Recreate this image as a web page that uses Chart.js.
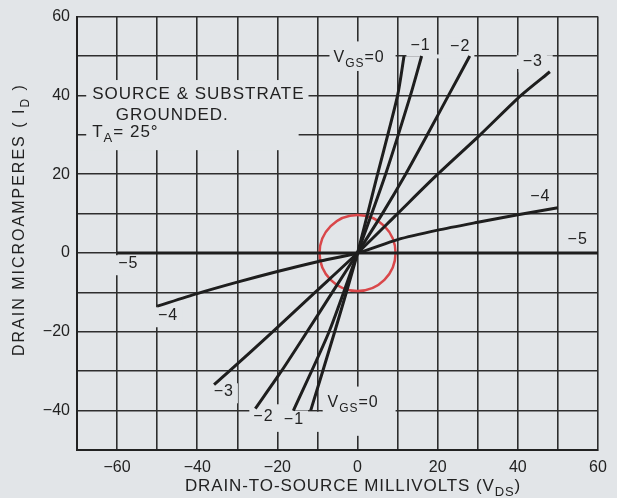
<!DOCTYPE html>
<html lang="en">
<head>
<meta charset="UTF-8">
<title>Drain current vs drain-to-source voltage</title>
<script src="https://cdn.jsdelivr.net/npm/chart.js"></script>
<style>
    html, body { margin: 0; padding: 0; background: #e2e5e8; }
    #wrap { width: 617px; height: 498px; }
</style>
</head>
<body>
<div id="wrap"><canvas id="chart" width="617" height="498"></canvas></div>
<script>
// curves: x = V_DS (mV), y = I_D (uA)
const vgs0X = [-11.7, -5.7, 0, 5, 10, 11.6];
const vgs0Y = [-40, -20, 0, 20, 40, 50];
const vgs1X = [-16, -7.1, 0, 7, 13.2, 16];
const vgs1Y = [-40, -20, 0, 20, 40, 50];
const vgs2X = [-25.5, -19, -12.6, -6.3, 0, 6.2, 12, 17.4, 22.7, 28];
const vgs2Y = [-39.5, -30, -20, -10, 0, 10, 20, 30, 40, 50];
const vgs3X = [-35.8, -32, -21.2, -10.6, 0, 10, 20, 30.6, 40.8, 48];
const vgs3Y = [-33.4, -30, -20, -10, 0, 10, 20, 30, 40, 46];
const vgs4X = [-50, -40, -30, -20, -10, 0, 10, 20, 30, 40, 50];
const vgs4Y = [-13.5, -10.3, -7.4, -4.7, -2.2, 0, 3.4, 5.8, 7.8, 9.7, 11.5];
const vgs5X = [-60, 60];
const vgs5Y = [0, 0];

// axis ranges and labelled ticks
const xMin = -70, xMax = 60;
const yMin = -50, yMax = 60;
const labelEvery = 20;

const PAPER = '#e2e5e8';
const INK = '#1e1e1e';
const FONT = '"Liberation Sans", Arial, sans-serif';

function pts(xs, ys) {
    return xs.map((x, i) => ({ x: x, y: ys[i] }));
}

function curve(xs, ys) {
    return {
        data: pts(xs, ys),
        showLine: true,
        borderColor: INK,
        borderWidth: 3,
        pointRadius: 0,
        tension: 0.25
    };
}

// text on the plot: parts are [text, isSubscript]
const notes = [
    { parts: [['V'], ['GS', 1], ['=0']], x: -6, y: 49.6 },
    { parts: [['\u22121']], x: 13.2, y: 52.7 },
    { parts: [['\u22122']], x: 23.1, y: 52.4 },
    { parts: [['\u22123']], x: 41.2, y: 48.7 },
    { parts: [['\u22124']], x: 43.1, y: 14.3 },
    { parts: [['\u22125']], x: 52.4, y: 3.3 },
    { parts: [['\u22125']], x: -59.7, y: -2.8 },
    { parts: [['\u22124']], x: -49.8, y: -16 },
    { parts: [['\u22123']], x: -35.9, y: -35.3 },
    { parts: [['\u22122']], x: -26, y: -41.5 },
    { parts: [['\u22121']], x: -18.4, y: -42.2 },
    { parts: [['V'], ['GS', 1], ['=0']], x: -7.5, y: -37.9 },
    { parts: [['SOURCE & SUBSTRATE']], x: -66.2, y: 40.2, size: 17 },
    { parts: [['GROUNDED.']], x: -60.3, y: 35, size: 17 },
    { parts: [['T'], ['A', 1], ['= 25\u00b0']], x: -66.2, y: 30.6, size: 17 }
];

// extra bits of grid left blank round the lettering [x0, y0, x1, y1]
const blanks = [
    [-67.7, 43.9, -14.7, 26.1],
    [-6.2, 53.7, 9.5, 46.2],
    [16, 50.4, 27.2, 49.4],
    [39.7, 50.2, 48.7, 46.7],
    [-25.9, -38.4, -16.2, -45.4],
    [-16.2, -40.3, -9.0, -45.4],
    [-8.7, -33.9, 9.5, -46.4]
];

function richWidth(ctx, parts, size) {
    let w = 0;
    parts.forEach(p => {
        ctx.font = (p[1] ? Math.round(size * 0.75) : size) + 'px ' + FONT;
        w += ctx.measureText(p[0]).width;
    });
    return w;
}

// draws text with subscripts, left edge at x, vertical middle at y
function drawRich(ctx, parts, x, y, size) {
    let cx = x;
    ctx.textBaseline = 'middle';
    ctx.textAlign = 'left';
    parts.forEach(p => {
        const s = p[1] ? Math.round(size * 0.75) : size;
        ctx.font = s + 'px ' + FONT;
        ctx.fillText(p[0], cx, p[1] ? y + size * 0.38 : y);
        cx += ctx.measureText(p[0]).width;
    });
}

const paperAndNotes = {
    id: 'paperAndNotes',
    beforeDraw(chart) {
        const ctx = chart.ctx;
        ctx.save();
        ctx.fillStyle = PAPER;
        ctx.fillRect(0, 0, chart.width, chart.height);
        ctx.restore();
    },
    // blank out the grid behind each note, like the lettering on the original
    beforeDatasetsDraw(chart) {
        const ctx = chart.ctx, xs = chart.scales.x, ys = chart.scales.y;
        ctx.save();
        ctx.letterSpacing = '1px';
        ctx.fillStyle = PAPER;
        notes.forEach(n => {
            const size = n.size || 16;
            const w = richWidth(ctx, n.parts, size);
            const px = xs.getPixelForValue(n.x), py = ys.getPixelForValue(n.y);
            ctx.fillRect(px - 4, py - size * 0.55, w + 8, size * 1.25);
        });
        blanks.forEach(b => {
            const x0 = xs.getPixelForValue(b[0]), y0 = ys.getPixelForValue(b[1]);
            const x1 = xs.getPixelForValue(b[2]), y1 = ys.getPixelForValue(b[3]);
            ctx.fillRect(x0, y0, x1 - x0, y1 - y0);
        });
        ctx.restore();
    },
    afterDatasetsDraw(chart) {
        const ctx = chart.ctx, xs = chart.scales.x, ys = chart.scales.y;
        ctx.save();
        ctx.fillStyle = '#222';
        ctx.letterSpacing = '1px';
        notes.forEach(n => {
            drawRich(ctx, n.parts, xs.getPixelForValue(n.x), ys.getPixelForValue(n.y), n.size || 16);
        });
        ctx.restore();
    },
    // axis titles with subscripts
    afterDraw(chart) {
        const ctx = chart.ctx, area = chart.chartArea;
        ctx.save();
        ctx.fillStyle = '#222';

        const xParts = [['DRAIN-TO-SOURCE MILLIVOLTS (V'], ['DS', 1], [')']];
        ctx.letterSpacing = '0.9px';
        const xw = richWidth(ctx, xParts, 17);
        drawRich(ctx, xParts, area.left + 276 - xw / 2, area.bottom + 36, 17);

        const yParts = [['DRAIN MICROAMPERES ( I'], ['D', 1], [' )']];
        ctx.letterSpacing = '2px';
        const yw = richWidth(ctx, yParts, 16);
        ctx.translate(20, area.top + 203);
        ctx.rotate(-Math.PI / 2);
        drawRich(ctx, yParts, -yw / 2, 0, 16);
        ctx.restore();
    }
};

const minusTick = v => (v % labelEvery === 0 ? String(v).replace('-', '\u2212') : '');

new Chart(document.getElementById('chart'), {
    type: 'scatter',
    data: {
        datasets: [
            curve(vgs0X, vgs0Y),
            curve(vgs1X, vgs1Y),
            curve(vgs2X, vgs2Y),
            curve(vgs3X, vgs3Y),
            curve(vgs4X, vgs4Y),
            curve(vgs5X, vgs5Y),
            {
                // red ring drawn round the origin
                data: [{ x: 0, y: 0 }],
                pointRadius: 38,
                pointBorderColor: '#d9474a',
                pointBorderWidth: 2.5,
                pointBackgroundColor: 'rgba(0,0,0,0)',
                showLine: false
            }
        ]
    },
    options: {
        responsive: false,
        animation: false,
        events: [],
        layout: { autoPadding: false, padding: { top: 12, right: 19, left: 0, bottom: 0 } },
        plugins: {
            legend: { display: false },
            tooltip: { enabled: false }
        },
        scales: {
            x: {
                type: 'linear',
                min: xMin,
                max: xMax,
                afterFit(s) { s.height = 48; },
                ticks: {
                    stepSize: 10,
                    padding: 8,
                    color: '#222',
                    font: { family: FONT, size: 16 },
                    maxRotation: 0,
                    autoSkip: false,
                    callback: minusTick
                },
                grid: { color: '#2e2e2e', lineWidth: 1.6, drawTicks: false },
                border: { color: '#222', width: 2 }
            },
            y: {
                type: 'linear',
                min: yMin,
                max: yMax,
                afterFit(s) { s.width = 77; },
                ticks: {
                    stepSize: 10,
                    padding: 7,
                    color: '#222',
                    font: { family: FONT, size: 16 },
                    autoSkip: false,
                    callback: minusTick
                },
                grid: { color: '#2e2e2e', lineWidth: 1.6, drawTicks: false },
                border: { color: '#222', width: 2 }
            }
        }
    },
    plugins: [paperAndNotes]
});
</script>
</body>
</html>
